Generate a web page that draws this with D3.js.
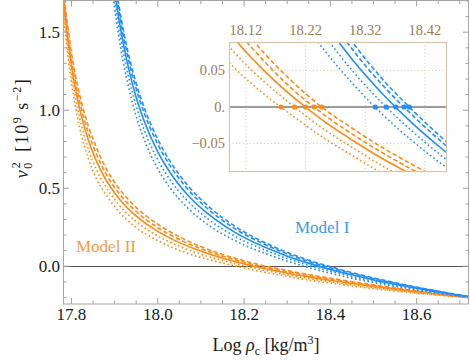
<!DOCTYPE html>
<html>
<head>
<meta charset="utf-8">
<script src="https://cdn.jsdelivr.net/npm/d3@7"></script>
<style>
  body { margin: 0; background: #fff; }
  text { font-family: "Liberation Serif", "DejaVu Serif", serif; }
</style>
</head>
<body>
<div id="chart"></div>
<script>
// ---- values ----
// Model II (orange): log rho_c grid and v0^2 for the five variants
var rhoII = [17.77, 17.78, 17.79, 17.80, 17.81, 17.82, 17.84, 17.86, 17.88, 17.91, 17.95, 18.00, 18.05, 18.10, 18.15, 18.20, 18.25, 18.30, 18.35, 18.40, 18.50, 18.60, 18.72];
var v2II_dotA  = [2.101, 1.703, 1.414, 1.194, 1.025, 0.887, 0.688, 0.551, 0.460, 0.350, 0.247, 0.163, 0.100, 0.054, 0.018, -0.013, -0.042, -0.067, -0.091, -0.111, -0.146, -0.175, -0.205];
var v2II_dotB  = [2.145, 1.750, 1.465, 1.250, 1.084, 0.949, 0.750, 0.610, 0.510, 0.394, 0.286, 0.193, 0.126, 0.075, 0.035, 0.001, -0.030, -0.056, -0.081, -0.102, -0.139, -0.171, -0.204];
var v2II_solid = [2.186, 1.794, 1.513, 1.302, 1.138, 1.006, 0.807, 0.664, 0.556, 0.435, 0.321, 0.222, 0.150, 0.094, 0.050, 0.013, -0.019, -0.046, -0.071, -0.093, -0.132, -0.167, -0.203];
var v2II_dashA = [2.220, 1.830, 1.553, 1.345, 1.184, 1.054, 0.855, 0.710, 0.595, 0.469, 0.351, 0.246, 0.170, 0.110, 0.063, 0.023, -0.010, -0.038, -0.063, -0.086, -0.127, -0.164, -0.202];
var v2II_dashB = [2.251, 1.863, 1.589, 1.384, 1.225, 1.097, 0.898, 0.751, 0.630, 0.500, 0.377, 0.268, 0.188, 0.124, 0.074, 0.033, -0.002, -0.030, -0.056, -0.079, -0.122, -0.161, -0.201];

// Model I (blue)
var rhoI = [17.89, 17.90, 17.91, 17.92, 17.935, 17.95, 17.97, 18.00, 18.03, 18.07, 18.12, 18.18, 18.25, 18.30, 18.35, 18.40, 18.45, 18.50, 18.60, 18.72];
var v2I_dotA  = [1.907, 1.675, 1.482, 1.320, 1.126, 0.969, 0.806, 0.627, 0.498, 0.372, 0.258, 0.161, 0.079, 0.031, -0.011, -0.047, -0.079, -0.107, -0.154, -0.201];
var v2I_dotB  = [1.968, 1.736, 1.545, 1.385, 1.191, 1.034, 0.869, 0.685, 0.550, 0.416, 0.295, 0.189, 0.100, 0.048, 0.004, -0.034, -0.068, -0.098, -0.149, -0.199];
var v2I_solid = [2.022, 1.790, 1.600, 1.441, 1.247, 1.090, 0.924, 0.736, 0.596, 0.455, 0.327, 0.214, 0.118, 0.063, 0.017, -0.023, -0.058, -0.090, -0.144, -0.198];
var v2I_dashA = [2.074, 1.842, 1.653, 1.495, 1.301, 1.144, 0.977, 0.785, 0.640, 0.493, 0.358, 0.238, 0.136, 0.077, 0.029, -0.012, -0.049, -0.082, -0.139, -0.197];
var v2I_dashB = [2.107, 1.875, 1.687, 1.530, 1.336, 1.179, 1.011, 0.817, 0.668, 0.517, 0.378, 0.253, 0.147, 0.087, 0.037, -0.005, -0.043, -0.077, -0.136, -0.196];

// tick labels
var xMajor = [17.8, 18.0, 18.2, 18.4, 18.6];
var yMajor = [0, 0.5, 1.0, 1.5];
var insetXTicks = [18.12, 18.22, 18.32, 18.42];
var insetYTicks = [-0.05, 0, 0.05];
var insetYLabels = ["\u22120.05", "0.", "0.05"];

var orange = "#ff8a14", blue = "#1e8eff";

// build series from the arrays above
var styles = {dotA: "1.6,2.6", dotB: "1.6,2.6", solid: null, dashA: "4.5,2.5", dashB: "4.5,2.5"};
function series(rho, vals, color, key) {
  return { color: color, dash: styles[key], pts: rho.map(function(r, i) { return [r, vals[i]]; }) };
}
var curves = [
  series(rhoII, v2II_dotA, orange, "dotA"), series(rhoII, v2II_dotB, orange, "dotB"),
  series(rhoII, v2II_solid, orange, "solid"), series(rhoII, v2II_dashA, orange, "dashA"),
  series(rhoII, v2II_dashB, orange, "dashB"),
  series(rhoI, v2I_dotA, blue, "dotA"), series(rhoI, v2I_dotB, blue, "dotB"),
  series(rhoI, v2I_solid, blue, "solid"), series(rhoI, v2I_dashA, blue, "dashA"),
  series(rhoI, v2I_dashB, blue, "dashB")
];

var W = 470, H = 360;
var plot = {left: 63, right: 469, top: 0.5, bottom: 304};

var svg = d3.select("#chart").append("svg")
    .attr("width", W).attr("height", H);

var x = d3.scaleLinear().domain([17.7815, 18.7225]).range([plot.left, plot.right]);
var y = d3.scaleLinear().domain([-0.245, 1.70]).range([plot.bottom, plot.top]);

svg.append("clipPath").attr("id", "clipMain").append("rect")
    .attr("x", plot.left).attr("y", plot.top)
    .attr("width", plot.right - plot.left).attr("height", plot.bottom - plot.top);

// zero line
svg.append("line")
    .attr("x1", plot.left).attr("x2", plot.right)
    .attr("y1", Math.round(y(0)) + 0.5).attr("y2", Math.round(y(0)) + 0.5)
    .attr("stroke", "#555").attr("stroke-width", 1);

var lineMain = d3.line()
    .x(function(d) { return x(d[0]); })
    .y(function(d) { return y(d[1]); })
    .curve(d3.curveMonotoneX);

svg.append("g").attr("clip-path", "url(#clipMain)")
  .selectAll("path").data(curves).enter().append("path")
    .attr("d", function(d) { return lineMain(d.pts); })
    .attr("fill", "none")
    .attr("stroke", function(d) { return d.color; })
    .attr("stroke-width", 1.6)
    .attr("stroke-dasharray", function(d) { return d.dash; });

// ticks on all four sides, pointing inward
var xMinor = d3.range(17.8, 18.72, 0.05).filter(function(v) { return Math.abs(Math.round(v * 5) - v * 5) > 1e-6; });
var yMinor = d3.range(-0.2, 1.71, 0.1).filter(function(v) { return Math.abs(Math.round(v * 2) - v * 2) > 1e-6; });

function styleAxis(g) {
  g.select(".domain").remove();
  g.selectAll(".tick line").attr("stroke", "#a0a0a0");
  g.selectAll("text").attr("fill", "#1a1a1a").style("font-size", "17px")
    .style("font-family", "'Liberation Serif', serif");
}

svg.append("g").attr("transform", "translate(0," + plot.bottom + ")")
  .call(d3.axisBottom(x).tickValues(xMajor).tickSize(-6).tickPadding(4).tickFormat(d3.format(".1f")))
  .call(styleAxis);
svg.append("g").attr("transform", "translate(0," + plot.bottom + ")")
  .call(d3.axisBottom(x).tickValues(xMinor).tickSize(-3.5).tickFormat(""))
  .call(styleAxis);
svg.append("g").attr("transform", "translate(0," + plot.top + ")")
  .call(d3.axisTop(x).tickValues(xMajor).tickSize(-6).tickFormat(""))
  .call(styleAxis);
svg.append("g").attr("transform", "translate(0," + plot.top + ")")
  .call(d3.axisTop(x).tickValues(xMinor).tickSize(-3.5).tickFormat(""))
  .call(styleAxis);

svg.append("g").attr("transform", "translate(" + plot.left + ",0)")
  .call(d3.axisLeft(y).tickValues(yMajor).tickSize(-6).tickPadding(3).tickFormat(d3.format(".1f")))
  .call(styleAxis);
svg.append("g").attr("transform", "translate(" + plot.left + ",0)")
  .call(d3.axisLeft(y).tickValues(yMinor).tickSize(-3.5).tickFormat(""))
  .call(styleAxis);
svg.append("g").attr("transform", "translate(" + plot.right + ",0)")
  .call(d3.axisRight(y).tickValues(yMajor).tickSize(-6).tickFormat(""))
  .call(styleAxis);
svg.append("g").attr("transform", "translate(" + plot.right + ",0)")
  .call(d3.axisRight(y).tickValues(yMinor).tickSize(-3.5).tickFormat(""))
  .call(styleAxis);

// frame
svg.append("rect")
    .attr("x", plot.left + 0.5).attr("y", plot.top)
    .attr("width", plot.right - plot.left - 1).attr("height", plot.bottom - plot.top)
    .attr("fill", "none").attr("stroke", "#a6a6a6").attr("stroke-width", 1);

// axis labels
var xl = svg.append("text")
    .attr("x", 266).attr("y", 351)
    .attr("text-anchor", "middle")
    .style("font-size", "18px").attr("fill", "#1a1a1a");
xl.append("tspan").text("Log ");
xl.append("tspan").style("font-style", "italic").text("\u03c1");
xl.append("tspan").attr("dy", 4).style("font-size", "12px").text("c");
xl.append("tspan").attr("dy", -4).text(" [kg/m");
xl.append("tspan").attr("dy", -7).style("font-size", "12px").text("3");
xl.append("tspan").attr("dy", 7).text("]");

var yl = svg.append("text")
    .attr("transform", "translate(28,128) rotate(-90)")
    .attr("text-anchor", "middle")
    .style("font-size", "18px").style("letter-spacing", "1.5px").attr("fill", "#1a1a1a");
yl.append("tspan").style("font-style", "italic").text("\u03bd");
yl.append("tspan").attr("dy", 4).style("font-size", "12px").text("0");
yl.append("tspan").attr("dx", -7).attr("dy", -12).style("font-size", "12px").text("2");
yl.append("tspan").attr("dx", 3).attr("dy", 8).text(" [10");
yl.append("tspan").attr("dy", -7).style("font-size", "12px").text("9");
yl.append("tspan").attr("dy", 7).text(" s");
yl.append("tspan").attr("dy", -7).style("font-size", "12px").text("\u22122");
yl.append("tspan").attr("dy", 7).text("]");

// model labels
svg.append("text").attr("x", 76).attr("y", 252)
    .style("font-size", "17px").attr("fill", "#fb9a3c").text("Model II");
svg.append("text").attr("x", 295).attr("y", 233)
    .style("font-size", "17px").attr("fill", "#3a9af0").text("Model I");

// ---------------- inset ----------------
var inset = {left: 229, right: 447, top: 42, bottom: 172};
var xi = d3.scaleLinear().domain([18.0917, 18.457]).range([inset.left, inset.right]);
var yi = d3.scaleLinear().domain([-0.0887, 0.0887]).range([inset.bottom, inset.top]);

var gi = svg.append("g");
gi.append("rect")
    .attr("x", inset.left).attr("y", inset.top)
    .attr("width", inset.right - inset.left).attr("height", inset.bottom - inset.top)
    .attr("fill", "#fff");

svg.append("clipPath").attr("id", "clipInset").append("rect")
    .attr("x", inset.left).attr("y", inset.top)
    .attr("width", inset.right - inset.left).attr("height", inset.bottom - inset.top);

// dotted grid
gi.selectAll("line.gx").data(insetXTicks).enter().append("line")
    .attr("class", "gx")
    .attr("x1", function(d) { return xi(d); }).attr("x2", function(d) { return xi(d); })
    .attr("y1", inset.top).attr("y2", inset.bottom)
    .attr("stroke", "#d9c6ab").attr("stroke-width", 1).attr("stroke-dasharray", "1,2.5");
gi.selectAll("line.gy").data(insetYTicks.filter(function(d) { return d !== 0; })).enter().append("line")
    .attr("class", "gy")
    .attr("x1", inset.left).attr("x2", inset.right)
    .attr("y1", function(d) { return yi(d); }).attr("y2", function(d) { return yi(d); })
    .attr("stroke", "#d9c6ab").attr("stroke-width", 1).attr("stroke-dasharray", "1,2.5");

gi.append("line")
    .attr("x1", inset.left).attr("x2", inset.right)
    .attr("y1", yi(0)).attr("y2", yi(0))
    .attr("stroke", "#7a7a7a").attr("stroke-width", 1.5);

var lineInset = d3.line()
    .x(function(d) { return xi(d[0]); })
    .y(function(d) { return yi(d[1]); })
    .curve(d3.curveMonotoneX);

gi.append("g").attr("clip-path", "url(#clipInset)")
  .selectAll("path").data(curves).enter().append("path")
    .attr("d", function(d) { return lineInset(d.pts); })
    .attr("fill", "none")
    .attr("stroke", function(d) { return d.color; })
    .attr("stroke-width", 1.6)
    .attr("stroke-dasharray", function(d) { return d.dash; });

// zero crossings of each curve (found from the data)
function root(pts) {
  for (var i = 1; i < pts.length; i++) {
    var a = pts[i - 1], b = pts[i];
    if (a[1] >= 0 && b[1] < 0) return a[0] + (b[0] - a[0]) * a[1] / (a[1] - b[1]);
  }
  return null;
}
gi.selectAll("circle").data(curves).enter().append("circle")
    .attr("cx", function(d) { return xi(root(d.pts)); })
    .attr("cy", yi(0))
    .attr("r", 2.6)
    .attr("fill", function(d) { return d.color; });

gi.append("rect")
    .attr("x", inset.left + 0.5).attr("y", inset.top + 0.5)
    .attr("width", inset.right - inset.left - 1).attr("height", inset.bottom - inset.top - 1)
    .attr("fill", "none").attr("stroke", "#d8c5a9").attr("stroke-width", 1.2);

gi.selectAll("text.ix").data(insetXTicks).enter().append("text")
    .attr("class", "ix")
    .attr("x", function(d) { return xi(d); }).attr("y", 35)
    .attr("text-anchor", "middle")
    .style("font-size", "14.5px").attr("fill", "#9b7a55")
    .text(function(d) { return d3.format(".2f")(d); });
gi.selectAll("text.iy").data(insetYTicks).enter().append("text")
    .attr("class", "iy")
    .attr("x", 225).attr("y", function(d) { return yi(d); })
    .attr("dy", "0.33em")
    .attr("text-anchor", "end")
    .style("font-size", "14.5px").attr("fill", "#9b7a55")
    .text(function(d, i) { return insetYLabels[i]; });
</script>
</body>
</html>
